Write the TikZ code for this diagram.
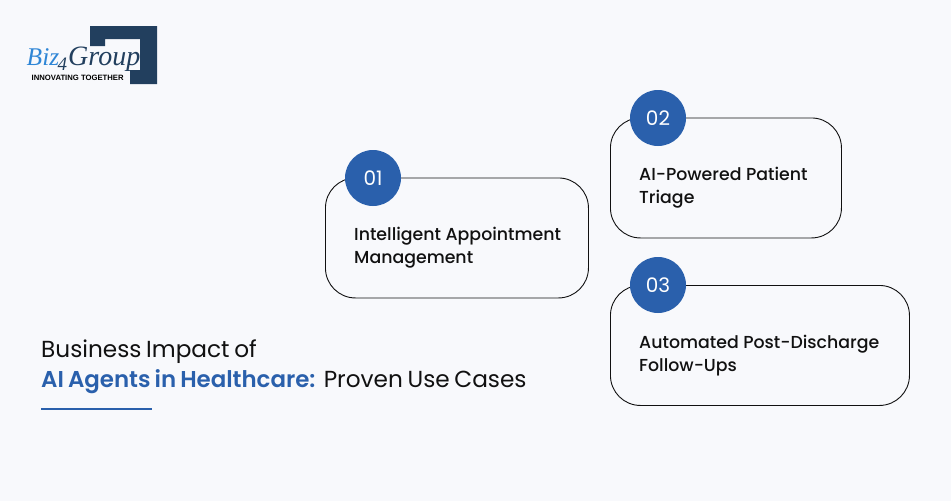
\documentclass[tikz,border=0pt]{standalone}
\usepackage{fontspec}
\setmainfont{Poppins}
\newfontfamily\medfont{Poppins Medium}
\newfontfamily\logofont{Liberation Serif}
\newfontfamily\tagfont{Liberation Sans}
\newfontfamily\headfont[WordSpace=0.75]{Poppins}
\newfontfamily\headsemi[WordSpace=0.75]{Poppins SemiBold}
\definecolor{pagebg}{HTML}{F8F9FC}
\definecolor{brandblue}{HTML}{2A60AC}
\definecolor{logonavy}{HTML}{223F5E}
\definecolor{logoblue}{HTML}{2F86D6}
\definecolor{inkblack}{HTML}{111111}
\tikzset{
  card/.style={draw=inkblack,line width=0.9pt,rounded corners=30pt,fill=pagebg,anchor=north west,inner sep=0pt},
  badge/.style={circle,fill=brandblue,minimum size=56pt,inner sep=0pt,text=white,font=\fontsize{20}{20}\selectfont},
  cardtext/.style={anchor=north west,align=left,inner sep=0pt,text=inkblack,font=\medfont\fontsize{17.35}{22.5}\selectfont},
  headline/.style={anchor=base west,inner sep=0pt,text=inkblack,font=\headfont\fontsize{23.2}{24}\selectfont},
  logotext/.style={anchor=base west,inner sep=0pt,font=\logofont\itshape\fontsize{28}{28}\selectfont},
}
\begin{document}
\begin{tikzpicture}[x=1pt,y=-1pt]
\useasboundingbox[fill=pagebg] (0,0) rectangle (951,501);
% logo
\fill[logonavy] (90,26)--(157,26)--(157,84)--(130,84)--(130,70)--(140,70)--(140,39)--(105,39)--(105,46)--(90,46)--cycle;
\node[logotext,text=logoblue,font=\logofont\itshape\fontsize{25.5}{26}\selectfont] (logoa) at (26.5,65) {Biz};
\node[logotext,text=logonavy,font=\logofont\itshape\fontsize{19}{19}\selectfont] (logob) at (57.5,70) {4};
\node[logotext,text=logonavy] (logoc) at (68,65) {Group};
\node[anchor=base west,inner sep=0pt,text=black,font=\tagfont\bfseries\fontsize{7.7}{8}\selectfont] (tag) at (31.5,80.5) {INNOVATING TOGETHER};
% cards
\node[card,minimum width=263pt,minimum height=120pt] (c1) at (325,177.5) {};
\node[card,minimum width=231pt,minimum height=120pt] (c2) at (610,117.5) {};
\node[card,minimum width=299pt,minimum height=120pt] (c3) at (610,285) {};
\node[badge] (b1) at (373,178) {01};
\node[badge] (b2) at (658,118) {02};
\node[badge] (b3) at (658,285) {03};
\node[cardtext] (t1) at (354,227) {Intelligent Appointment\\Management};
\node[cardtext] (t2) at (639,167) {AI-Powered Patient\\Triage};
\node[cardtext] (t3) at (639,335) {Automated Post-Discharge\\Follow-Ups};
% heading
\node[headline] (h1) at (41,357) {Business Impact of};
\node[headline] (h2) at (41,387) {\textcolor{brandblue}{\headsemi\fontsize{22.9}{24}\selectfont AI Agents in Healthcare:}\hspace{1.6pt} Proven Use Cases};
\coordinate (ruleA) at (41,409);
\coordinate (ruleB) at (152,409);
\draw[brandblue,line width=1.6pt] (ruleA)--(ruleB);
\end{tikzpicture}
\end{document}
